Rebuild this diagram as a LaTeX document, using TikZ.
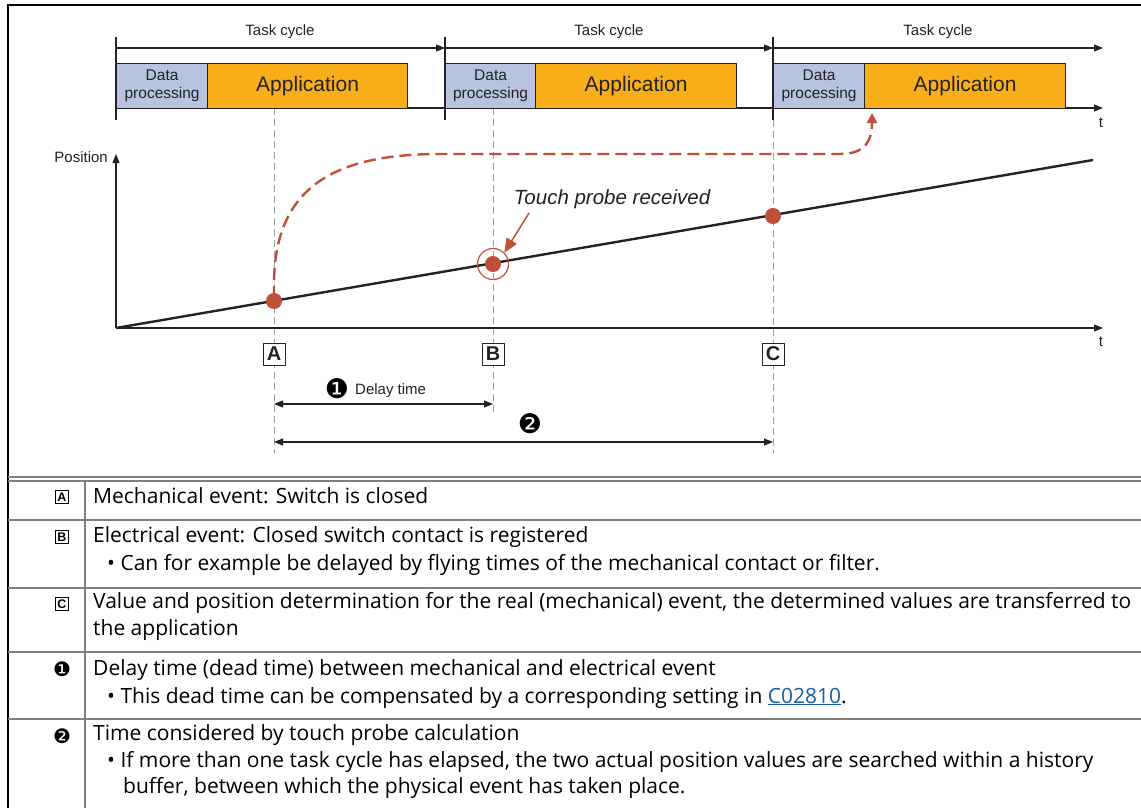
\documentclass[tikz,border=0pt]{standalone}
\usepackage{fontspec}
\setmainfont{Open Sans}
\newfontfamily\arialf{Liberation Sans}
\newfontfamily\dvs{DejaVu Sans}
\usetikzlibrary{arrows.meta}
\definecolor{tpred}{HTML}{C0503A}
\definecolor{apporange}{HTML}{F8AE1A}
\definecolor{dpblue}{HTML}{B7C3DF}
\definecolor{dashgray}{HTML}{A0A0A0}
\definecolor{tblgray}{HTML}{808080}
\definecolor{linkblue}{HTML}{1A5DA6}
\definecolor{ink}{HTML}{222222}
\tikzset{
  tick/.style={draw=ink, line width=1.1},
  cyc/.style={draw=ink, line width=1.1, -{Triangle[length=9,width=7]}},
  dbl/.style={draw=ink, line width=1.1, {Triangle[length=9,width=7]}-{Triangle[length=9,width=7]}},
  lbl/.style={font=\arialf\fontsize{15}{18}\selectfont, text=ink, inner sep=0},
  dpbox/.style={draw=ink, line width=1.2, fill=dpblue, anchor=north west, minimum height=45, inner sep=0, align=center, font=\arialf\fontsize{15.5}{18}\selectfont, text=ink},
  appbox/.style={draw=ink, line width=1.2, fill=apporange, anchor=north west, minimum height=45, inner sep=0, font=\arialf\fontsize{21}{24}\selectfont, text=ink},
  vdash/.style={draw=dashgray, line width=1, dash pattern=on 7 off 4},
  letterbox/.style={draw=ink, line width=1, fill=white, minimum size=22, inner sep=0, font=\arialf\bfseries\fontsize{20}{20}\selectfont, text=ink},
  dot/.style={circle, fill=tpred, minimum size=16, inner sep=0},
  tbl/.style={draw=tblgray, line width=2},
  rowtxt/.style={anchor=base west, inner sep=0, font=\fontsize{21}{24}\selectfont, text=black},
  smallbox/.style={draw=black, line width=0.8, minimum size=13.5, inner sep=0, font=\arialf\bfseries\fontsize{12.5}{12.5}\selectfont},
  numsym/.style={inner sep=0, font=\dvs\fontsize{20}{20}\selectfont},
}
\begin{document}
\begin{tikzpicture}[x=1pt,y=-1pt]
\useasboundingbox (0,0) rectangle (1141,808);
\fill[white] (0,0) rectangle (1141,808);

% ---------------- task cycle header
\coordinate (c0) at (116,48);
\coordinate (c1) at (445,48);
\coordinate (c2) at (773,48);
\coordinate (c3) at (1103,48);
\draw[tick] (116,37) -- (116,120);
\draw[tick] (445,37) -- (445,120);
\draw[tick] (773,37) -- (773,120);
\draw[cyc] (c0) -- (c1);
\draw[cyc] (c1) -- (c2);
\draw[cyc] (c2) -- (c3);
\node[lbl] (tc1) at (280,32) {Task cycle};
\node[lbl] (tc2) at (609,32) {Task cycle};
\node[lbl] (tc3) at (938,32) {Task cycle};

% time axis of task
\coordinate (t0) at (116,108);
\coordinate (t1) at (1103,108);
\draw[cyc] (t0) -- (t1);
\node[lbl] (tlab1) at (1101,123) {t};

% vertical dashed marker lines
\draw[vdash] (274,108) -- (274,453);
\draw[vdash] (493,108) -- (493,413);
\draw[vdash] (773,120) -- (773,453);

\node[dpbox, minimum width=91] (dp1) at (116,63) {Data\\processing};
\node[appbox, minimum width=200] (ap1) at (207,63) {Application};
\node[dpbox, minimum width=90] (dp2) at (445,63) {Data\\processing};
\node[appbox, minimum width=201] (ap2) at (535,63) {Application};
\node[dpbox, minimum width=91] (dp3) at (773,63) {Data\\processing};
\node[appbox, minimum width=201] (ap3) at (864,63) {Application};

% ---------------- position graph
\coordinate (o) at (116,328);
\coordinate (ytop) at (116,154);
\coordinate (xend) at (1103,328);
\coordinate (lend) at (1093,160);
\draw[cyc] (o) -- (ytop);
\draw[cyc] (o) -- (xend);
\node[lbl, anchor=east] (poslab) at (108,157) {Position};
\node[lbl] (tlab2) at (1101,342) {t};
\draw[draw=ink, line width=2.4] (o) -- (lend);

% red dashed path
\draw[draw=tpred, line width=2.4, dash pattern=on 12 off 6, -{Triangle[length=10,width=10]}]
  (274,298) -- (274,285) .. controls (274,190) and (330,154) .. (440,154)
  -- (840,154) .. controls (866,154) and (872,140) .. (872,113);

\node[dot] (pa) at (274,301) {};
\node[dot] (pb) at (493,264) {};
\node[dot] (pc) at (773,216) {};
\node[circle, draw=tpred, line width=1.2, minimum size=31, inner sep=0] (pbring) at (pb) {};

\node[font=\arialf\itshape\fontsize{20.5}{24}\selectfont, text=ink, inner sep=0] (tpr) at (612,199) {Touch probe received};
\coordinate (tparr) at (529,213);
\draw[draw=tpred, line width=1.5, -{Triangle[length=14,width=12]}] (tparr) -- (pbring.north east);

\node[letterbox] (la) at (274,354) {A};
\node[letterbox] (lb) at (493,354) {B};
\node[letterbox] (lc) at (773,354) {C};

\coordinate (d1a) at (274,404);
\coordinate (d1b) at (493,404);
\coordinate (d2a) at (274,442);
\coordinate (d2b) at (773,442);
\draw[dbl] (d1a) -- (d1b);
\draw[dbl] (d2a) -- (d2b);
\node[inner sep=0, font=\dvs\fontsize{27}{27}\selectfont] (n1) at (337,389) {❶};
\node[lbl, anchor=west] (dtl) at (355,391) {Delay time};
\node[inner sep=0, font=\dvs\fontsize{27}{27}\selectfont] (n2) at (530,424) {❷};

% ---------------- frame and table
\draw[draw=black, line width=2.5] (8,808) -- (8,5) -- (1141,5);
\draw[tbl] (8,477) -- (1141,477);
\draw[tbl] (8,481) -- (1141,481);
\draw[tbl] (85,481) -- (85,808);
\draw[tbl] (8,520) -- (1141,520);
\draw[tbl] (8,588) -- (1141,588);
\draw[tbl] (8,652) -- (1141,652);
\draw[tbl] (8,719) -- (1141,719);

\node[smallbox] (sa) at (62,497) {A};
\node[smallbox] (sb) at (62,537) {B};
\node[smallbox] (sc) at (62,604) {C};
\node[numsym] (s1) at (62,669) {❶};
\node[numsym] (s2) at (62,736) {❷};

\node[rowtxt] (ra) at (93,503) {Mechanical event: Switch is closed};
\node[rowtxt] (rb1) at (93,542) {Electrical event: Closed switch contact is registered};
\node[rowtxt] (rb2) at (107,570) {• Can for example be delayed by flying times of the mechanical contact or filter.};
\node[rowtxt] (rc1) at (93,608) {Value and position determination for the real (mechanical) event, the determined values are transferred to};
\node[rowtxt] (rc2) at (93,635) {the application};
\node[rowtxt] (r11) at (93,675) {Delay time (dead time) between mechanical and electrical event};
\node[rowtxt] (r12) at (107,703) {• This dead time can be compensated by a corresponding setting in \textcolor{linkblue}{\underline{C02810}}.};
\node[rowtxt] (r21) at (93,740) {Time considered by touch probe calculation};
\node[rowtxt] (r22) at (107,767) {• If more than one task cycle has elapsed, the two actual position values are searched within a history};
\node[rowtxt] (r23) at (123,793) {buffer, between which the physical event has taken place.};
\end{tikzpicture}
\end{document}
